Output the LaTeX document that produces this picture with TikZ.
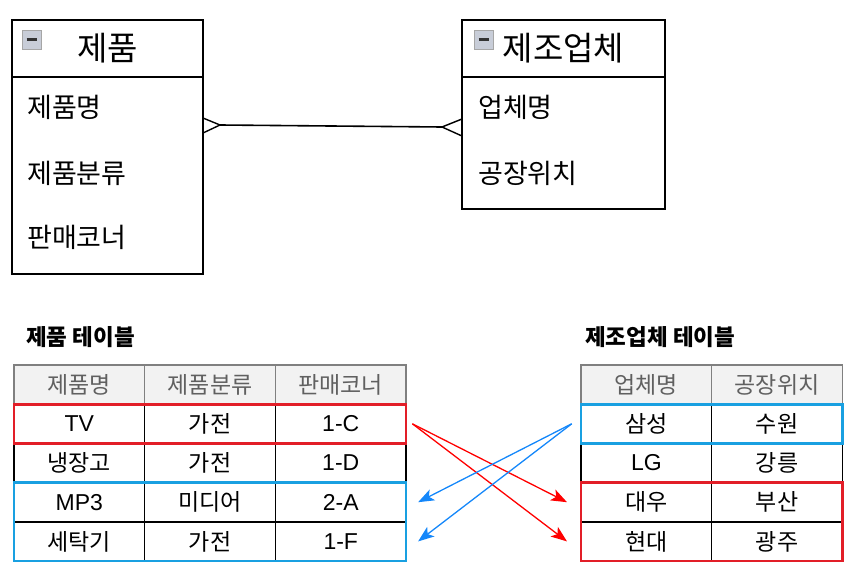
\documentclass[tikz,border=0pt]{standalone}
\usepackage{fontspec}
\setmainfont{Noto Sans CJK KR}
\newfontfamily\latinfont{Liberation Sans}
\usepackage{tikz}
\usetikzlibrary{positioning, arrows.meta, calc, fit}
\definecolor{selred}{RGB}{226,30,40}
\definecolor{selblue}{RGB}{25,160,225}
\definecolor{arrred}{RGB}{255,0,0}
\definecolor{arrblue}{RGB}{20,135,250}
\definecolor{headgray}{RGB}{242,242,242}
\definecolor{icongray}{RGB}{200,205,216}

\begin{document}
\begin{tikzpicture}[
  x=1pt, y=-1pt,
  >=Stealth,
  entityhead/.style={draw, line width=1.6pt, minimum height=57pt, inner sep=0pt,
              outer sep=0pt, font=\fontsize{33}{39}\selectfont},
  entitybody/.style={draw, line width=1.6pt, inner sep=0pt, outer sep=0pt},
  attr/.style={anchor=west, inner sep=0pt, font=\fontsize{27}{32}\selectfont},
  minusicon/.style={draw=gray!70, fill=icongray, minimum size=19pt, inner sep=0pt},
  tabletitle/.style={anchor=west, inner sep=0pt, font=\bfseries\fontsize{22.5}{27}\selectfont},
  headcell/.style={draw=gray, line width=1.5pt, fill=headgray, text=gray!75!black,
              minimum width=130.7pt, minimum height=39.2pt, inner sep=0pt,
              outer sep=0pt, font=\fontsize{23}{27}\selectfont},
  cell/.style={draw, line width=1.5pt, minimum width=130.7pt, minimum height=39.2pt,
              inner sep=0pt, outer sep=0pt, font=\fontsize{23}{27}\selectfont},
  redsel/.style={draw=selred, line width=2.6pt, inner sep=0pt},
  bluesel/.style={draw=selblue, line width=2.6pt, inner sep=0pt},
  link/.style={-{Stealth[length=16pt, width=12pt, inset=4pt]}, line width=1.3pt}
]
  \useasboundingbox (0,0) rectangle (848,567);

  % Entities
  \node[entityhead, minimum width=191pt, anchor=north west] (prodhead) at (12,20) {제품};
  \node[entitybody, minimum width=191pt, minimum height=197pt, below=0pt of prodhead]
    (prodbody) {};
  \node[minusicon] (prodicon) at (31.5,39.5) {\textcolor{black!80}{\rule{10pt}{2.6pt}}};
  \node[attr] (pname) at (27,107) {제품명};
  \node[attr] (pkind) at (27,173) {제품분류};
  \node[attr] (pcorner) at (27,237) {판매코너};

  \node[entityhead, minimum width=203pt, anchor=north west] (makerhead) at (462,20) {제조업체};
  \node[entitybody, minimum width=203pt, minimum height=132pt, below=0pt of makerhead]
    (makerbody) {};
  \node[minusicon] (makericon) at (483.5,39.5) {\textcolor{black!80}{\rule{10pt}{2.6pt}}};
  \node[attr] (mname) at (478,107) {업체명};
  \node[attr] (mplace) at (478,173) {공장위치};

  % Relationship (many to many)
  \coordinate (prodfoot) at (220,125);
  \coordinate (makerfoot) at (442,127);
  \draw[line width=1.6pt] (prodfoot) -- (makerfoot);
  \draw[line width=1.4pt] ($(prodfoot -| prodbody.east)+(0,-7)$) -- (prodfoot)
    -- ($(prodfoot -| prodbody.east)+(0,8)$);
  \draw[line width=1.4pt] ($(makerfoot -| makerbody.west)+(0,-8)$) -- (makerfoot)
    -- ($(makerfoot -| makerbody.west)+(0,9)$);

  % Product table
  \node[tabletitle] (prodtitle) at (26,337) {제품 테이블};
  \node[headcell, anchor=north west] (ph1) at (14,365) {제품명};
  \node[headcell, right=0pt of ph1] (ph2) {제품분류};
  \node[headcell, right=0pt of ph2] (ph3) {판매코너};
  \node[cell, below=0pt of ph1] (p11) {\latinfont TV};
  \node[cell, right=0pt of p11] (p12) {가전};
  \node[cell, right=0pt of p12] (p13) {\latinfont 1-C};
  \node[cell, below=0pt of p11] (p21) {냉장고};
  \node[cell, right=0pt of p21] (p22) {가전};
  \node[cell, right=0pt of p22] (p23) {\latinfont 1-D};
  \node[cell, below=0pt of p21] (p31) {\latinfont MP3};
  \node[cell, right=0pt of p31] (p32) {미디어};
  \node[cell, right=0pt of p32] (p33) {\latinfont 2-A};
  \node[cell, below=0pt of p31] (p41) {세탁기};
  \node[cell, right=0pt of p41] (p42) {가전};
  \node[cell, right=0pt of p42] (p43) {\latinfont 1-F};

  % Maker table
  \node[tabletitle] (makertitle) at (585,337) {제조업체 테이블};
  \node[headcell, anchor=north west] (mh1) at (581,365) {업체명};
  \node[headcell, right=0pt of mh1] (mh2) {공장위치};
  \node[cell, below=0pt of mh1] (m11) {삼성};
  \node[cell, right=0pt of m11] (m12) {수원};
  \node[cell, below=0pt of m11] (m21) {\latinfont LG};
  \node[cell, right=0pt of m21] (m22) {강릉};
  \node[cell, below=0pt of m21] (m31) {대우};
  \node[cell, right=0pt of m31] (m32) {부산};
  \node[cell, below=0pt of m31] (m41) {현대};
  \node[cell, right=0pt of m41] (m42) {광주};

  % Highlighted rows
  \node[redsel, fit=(p11)(p13)] (prodred) {};
  \node[bluesel, fit=(p31)(p43)] (prodblue) {};
  \node[bluesel, fit=(m11)(m12)] (makerblue) {};
  \node[redsel, fit=(m31)(m42)] (makerred) {};

  % Links
  \draw[link, arrred] ([xshift=5pt]prodred.east) -- ([xshift=-14pt]m31.west);
  \draw[link, arrred] ([xshift=5pt]prodred.east) -- ([xshift=-14pt]m41.west);
  \draw[link, arrblue] ([xshift=-8pt]makerblue.west) -- ([xshift=12pt]p33.east);
  \draw[link, arrblue] ([xshift=-8pt]makerblue.west) -- ([xshift=12pt]p43.east);
\end{tikzpicture}
\end{document}
